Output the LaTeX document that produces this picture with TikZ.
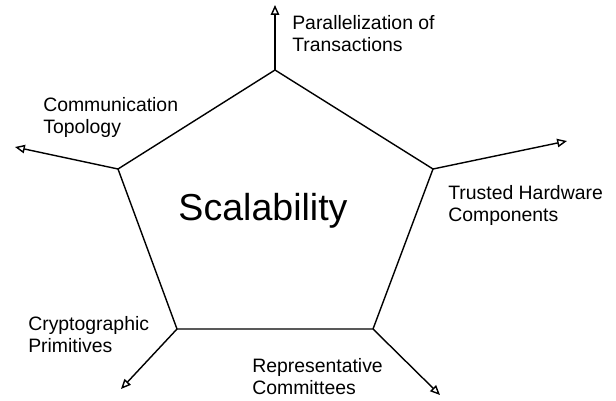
\documentclass[tikz,border=0pt]{standalone}
\usepackage{fontspec}
\setmainfont{Liberation Sans}
\usetikzlibrary{arrows.meta}

\begin{document}
\begin{tikzpicture}[x=0.025cm, y=-0.025cm,
        spoke/.style={draw, line width=1pt, -{Triangle[open, length=7pt, width=6pt]}},
        facet/.style={anchor=north west, align=left, inner sep=0pt,
            font=\fontsize{13.8}{15.8}\selectfont}]
    \useasboundingbox (0,0) rectangle (616,400);

    % corners of the pentagon
    \coordinate (top) at (275,70);
    \coordinate (right) at (433,169);
    \coordinate (lowright) at (373,329);
    \coordinate (lowleft) at (177,329);
    \coordinate (left) at (118,169);

    % ends of the spokes
    \coordinate (topend) at (275,5);
    \coordinate (rightend) at (567,141);
    \coordinate (lowrightend) at (440,395);
    \coordinate (lowleftend) at (121,389);
    \coordinate (leftend) at (15,147);

    \draw[line width=1pt, line join=miter] (top) -- (right) -- (lowright) -- (lowleft) -- (left) -- cycle;

    \node[anchor=base, inner sep=0pt, font=\fontsize{26.7}{30}\selectfont] (scal) at (263,220) {Scalability};

    \draw[spoke] (top) -- (topend);
    \draw[spoke] (right) -- (rightend);
    \draw[spoke] (lowright) -- (lowrightend);
    \draw[spoke] (lowleft) -- (lowleftend);
    \draw[spoke] (left) -- (leftend);

    \node[facet] (para) at (292,15) {Parallelization of\\Transactions};
    \node[facet] (comm) at (43,97) {Communication\\Topology};
    \node[facet] (trust) at (448,185) {Trusted Hardware\\Components};
    \node[facet] (crypt) at (28,316) {Cryptographic\\Primitives};
    \node[facet] (repr) at (252,358) {Representative\\Committees};
\end{tikzpicture}
\end{document}
